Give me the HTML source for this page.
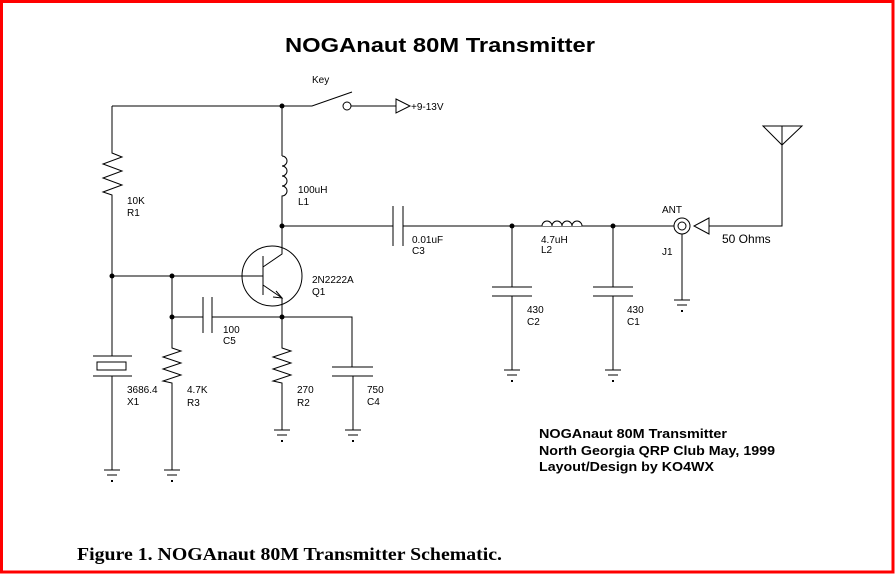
<!DOCTYPE html>
<html><head><meta charset="utf-8"><style>
html,body{margin:0;padding:0;background:#fff}
svg{display:block}
text{font-family:"Liberation Sans",Arial,sans-serif;fill:#000}
</style></head><body>
<svg width="895" height="574" viewBox="0 0 895 574" xmlns="http://www.w3.org/2000/svg">
<rect x="0" y="0" width="895" height="574" fill="#fff"/>
<rect x="1.5" y="1.5" width="891.5" height="570.5" fill="none" stroke="#f00" stroke-width="3"/>
<text x="285" y="52" font-size="20" font-weight="bold" textLength="310" lengthAdjust="spacingAndGlyphs">NOGAnaut 80M Transmitter</text>
<g stroke="#000" stroke-width="1" fill="none">
<path d="M112 106H282 M282 106H312 L352 92"/>
<circle cx="347" cy="106" r="4"/>
<path d="M351 106H396 M396 99L410 106L396 113Z"/>
<path d="M112 106V153 L122 157 L103 164 L122 171 L103 178 L122 185 L103 192 L112 195 V276"/>
<path d="M282 106V156 M282 156 a5 5 0 0 1 0 10 a5 5 0 0 1 0 10 a5 5 0 0 1 0 10 a5 5 0 0 1 0 10 V226"/>
<path d="M282 226H393 M393 206V246 M403 206V246 M403 226H674"/>
<circle cx="272" cy="276" r="30"/>
<path d="M112 276H263 M263 256V295 M263 267L282 254V226 M263 285L282 298V317"/>
<path d="M276 291L282 298L273 297" />
<path d="M172 276V317H203 M203 297V333 M212 297V333 M212 317H352V367 M172 317V348 L181 351 L163 357 L181 363 L163 369 L181 375 L163 381 L172 383 V470"/>
<path d="M282 317V348 L291 351 L273 357 L291 363 L273 369 L291 375 L273 381 L282 383 V430"/>
<path d="M332 367H373 M332 376H373 M353 376V430"/>
<path d="M112 276V356 M93 356H132 M93 376H132 M112 376V470"/>
<rect x="97" y="362" width="29" height="8"/>
<path d="M512 226V287 M492 287H532 M492 296H532 M512 296V370"/>
<path d="M613 226V287 M593 287H633 M593 296H633 M613 296V370"/>
<circle cx="682" cy="226" r="8"/>
<circle cx="682" cy="226" r="4"/>
<path d="M682 234V300 M709 218L694 226L709 234Z M709 226H782V145 M763 126H802L782 145Z M782 126V145"/>
<path d="M104 470H120 M107 475H117"/>
<path d="M164 470H180 M167 475H177"/>
<path d="M274 430H290 M277 435H287"/>
<path d="M345 430H361 M348 435H358"/>
<path d="M504 370H520 M507 375H517"/>
<path d="M605 370H621 M608 375H618"/>
<path d="M674 300H690 M677 305H687"/>
</g>
<path d="M542 226 a5 5 0 0 1 10 0 a5 5 0 0 1 10 0 a5 5 0 0 1 10 0 a5 5 0 0 1 10 0" stroke="#000" fill="#fff"/>
<g fill="#000">
<circle cx="282" cy="106" r="2.5"/><circle cx="282" cy="226" r="2.5"/>
<circle cx="112" cy="276" r="2.5"/><circle cx="172" cy="276" r="2.5"/>
<circle cx="172" cy="317" r="2.5"/><circle cx="282" cy="317" r="2.5"/>
<circle cx="512" cy="226" r="2.5"/><circle cx="613" cy="226" r="2.5"/>
<rect x="111" y="480" width="2" height="2"/><rect x="171" y="480" width="2" height="2"/>
<rect x="281" y="440" width="2" height="2"/><rect x="352" y="440" width="2" height="2"/>
<rect x="511" y="380" width="2" height="2"/><rect x="612" y="380" width="2" height="2"/>
<rect x="681" y="310" width="2" height="2"/>
</g>
<g font-size="10">
<text x="312" y="83">Key</text>
<text x="411" y="110">+9-13V</text>
<text x="127" y="204">10K</text><text x="127" y="216">R1</text>
<text x="298" y="193">100uH</text><text x="298" y="205">L1</text>
<text x="412" y="243">0.01uF</text><text x="412" y="254">C3</text>
<text x="312" y="283">2N2222A</text><text x="312" y="295">Q1</text>
<text x="223" y="333">100</text><text x="223" y="344">C5</text>
<text x="127" y="393">3686.4</text><text x="127" y="405">X1</text>
<text x="187" y="393">4.7K</text><text x="187" y="406">R3</text>
<text x="297" y="393">270</text><text x="297" y="406">R2</text>
<text x="367" y="393">750</text><text x="367" y="405">C4</text>
<text x="541" y="243">4.7uH</text><text x="541" y="253">L2</text>
<text x="527" y="313">430</text><text x="527" y="325">C2</text>
<text x="627" y="313">430</text><text x="627" y="325">C1</text>
<text x="662" y="213">ANT</text><text x="662" y="255">J1</text>
</g>
<text x="722" y="243" font-size="12">50 Ohms</text>
<g font-size="13" font-weight="bold">
<text x="539" y="438" textLength="188" lengthAdjust="spacingAndGlyphs">NOGAnaut 80M Transmitter</text>
<text x="539" y="455" textLength="236" lengthAdjust="spacingAndGlyphs">North Georgia QRP Club May, 1999</text>
<text x="539" y="471" textLength="175" lengthAdjust="spacingAndGlyphs">Layout/Design by KO4WX</text>
</g>
<text x="77" y="560" font-size="18" font-weight="bold" style="font-family:'Liberation Serif',serif" textLength="425" lengthAdjust="spacingAndGlyphs">Figure 1. NOGAnaut 80M Transmitter Schematic.</text>
</svg>
</body></html>
